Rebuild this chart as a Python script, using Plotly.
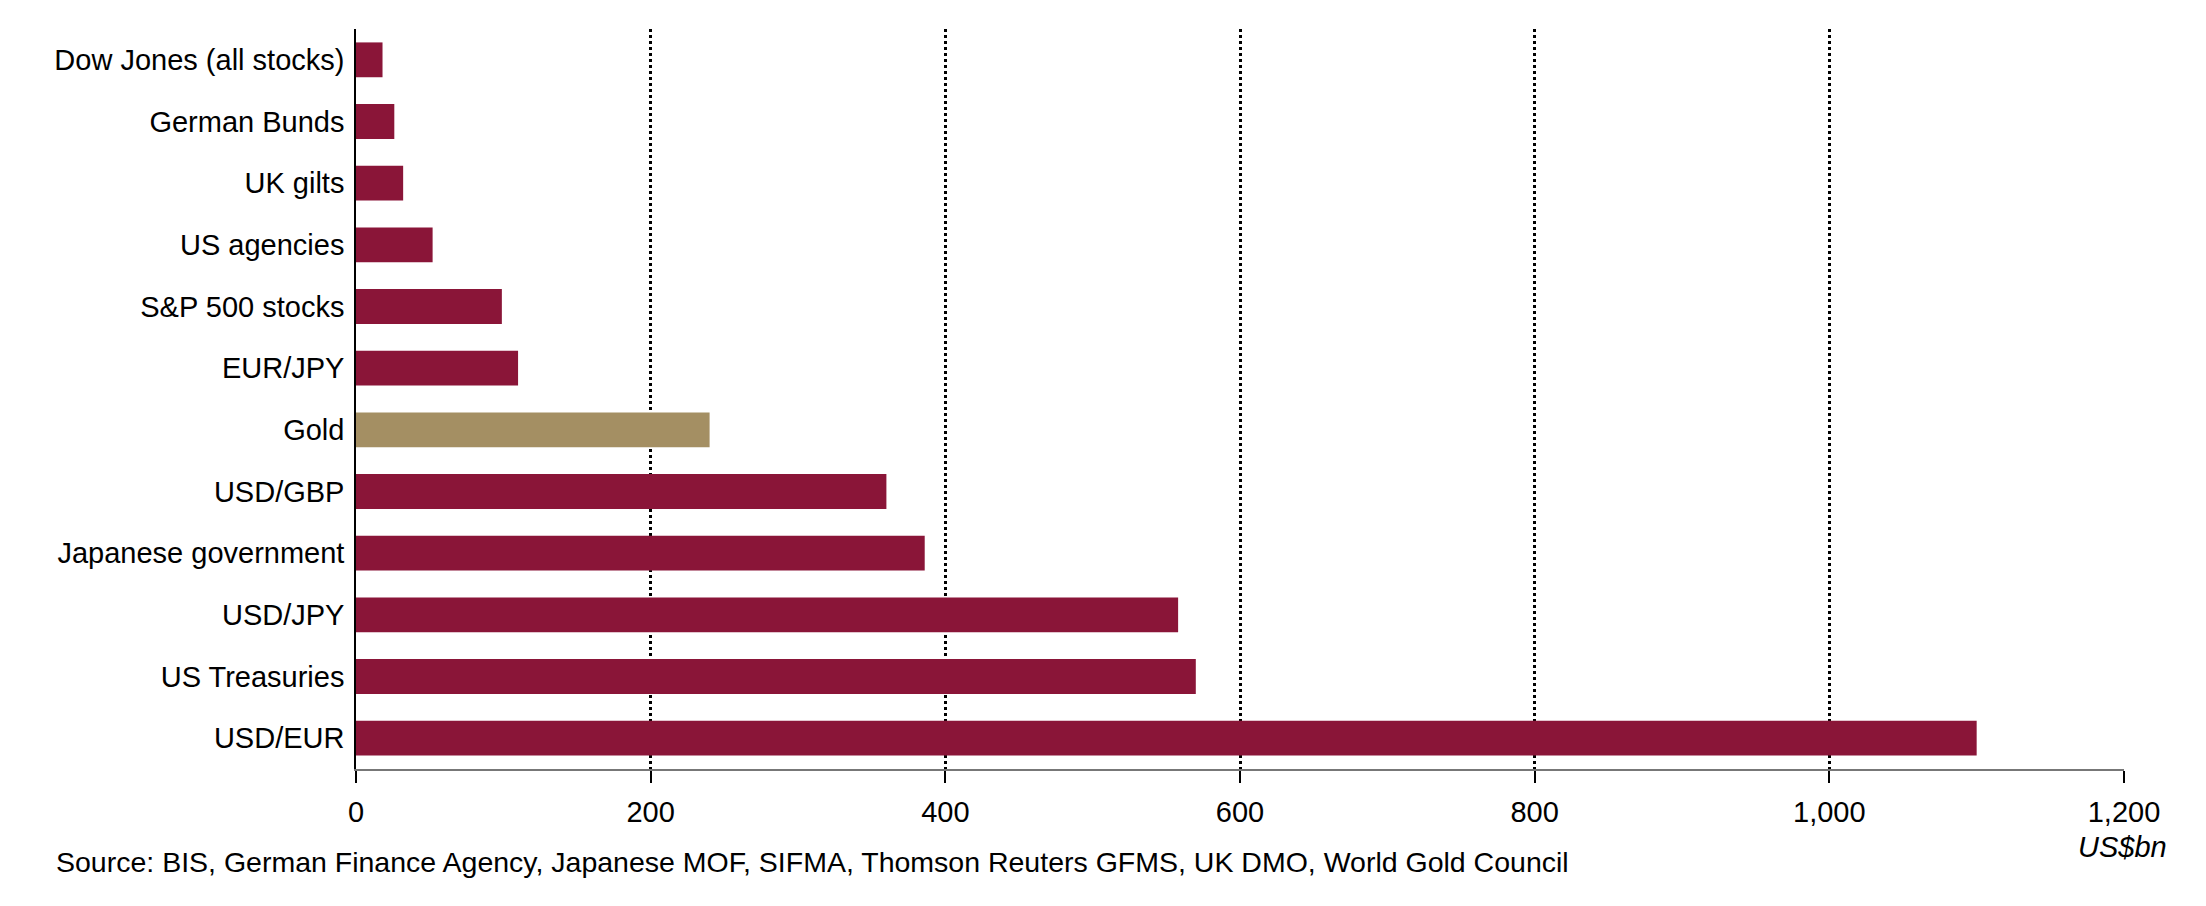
import plotly.graph_objects as go

categories = ["Dow Jones (all stocks)", "German Bunds", "UK gilts", "US agencies",
              "S&P 500 stocks", "EUR/JPY", "Gold", "USD/GBP", "Japanese government",
              "USD/JPY", "US Treasuries", "USD/EUR"]
values = [18, 26, 32, 52, 99, 110, 240, 360, 386, 558, 570, 1100]
x_ticks = [0, 200, 400, 600, 800, 1000, 1200]
x_tick_labels = ["0", "200", "400", "600", "800", "1,000", "1,200"]

MAROON = "#8A1538"
GOLD = "#A48F63"
colors = [GOLD if c == "Gold" else MAROON for c in categories]

FONT = "Liberation Sans"

fig = go.Figure(go.Bar(
    y=categories, x=values, orientation="h",
    marker=dict(color=colors, line=dict(width=0)),
    width=0.565,
))

fig.update_layout(
    width=2206, height=906,
    margin=dict(l=348, r=90, t=21, b=145),
    paper_bgcolor="white", plot_bgcolor="white",
    font=dict(family=FONT, size=29, color="#000000"),
    showlegend=False,
    xaxis=dict(
        range=[0, 1200], tickvals=x_ticks, ticktext=x_tick_labels,
        showgrid=True, gridcolor="black", griddash="dot", gridwidth=2.6,
        showline=True, linecolor="#777777", linewidth=2,
        ticks="outside", ticklen=12, tickwidth=1.5, tickcolor="black",
        zeroline=False, tickfont=dict(size=29), ticklabelstandoff=4,
    ),
    yaxis=dict(
        categoryorder="array", categoryarray=categories, autorange="reversed",
        range=[11.5, -0.5],
        showline=True, linecolor="black", linewidth=1.5,
        showgrid=False, ticks="", zeroline=False, tickfont=dict(size=29),
        ticklabelstandoff=4,
    ),
    annotations=[
        dict(text="Source: BIS, German Finance Agency, Japanese MOF, SIFMA, Thomson Reuters GFMS, UK DMO, World Gold Council",
             xref="paper", yref="paper", x=-0.1708, y=-0.1257, xanchor="left", yanchor="middle",
             showarrow=False, font=dict(size=28.5)),
        dict(text="<i>US$bn</i>", xref="paper", yref="paper", x=1.0254, y=-0.105,
             xanchor="right", yanchor="middle", showarrow=False, font=dict(size=29)),
    ],
)

fig.write_html("out.html")
